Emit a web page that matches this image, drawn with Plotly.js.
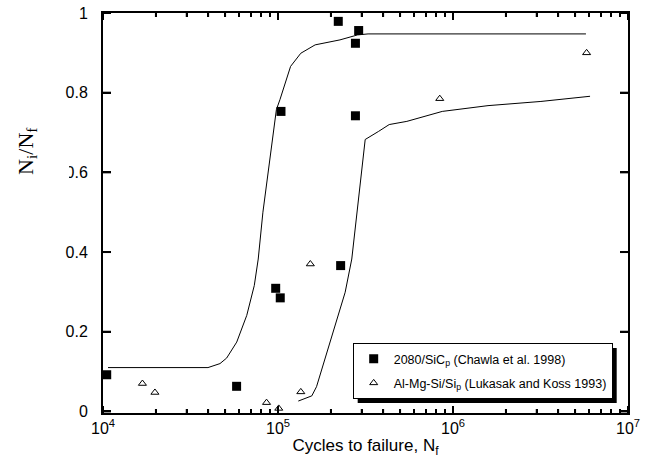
<!DOCTYPE html>
<html>
<head>
<meta charset="utf-8">
<script src="https://cdn.plot.ly/plotly-3.0.1.min.js"></script>
<style>
  html, body { margin: 0; padding: 0; background: #fff; }
  #chart { width: 654px; height: 458px; }
</style>
</head>
<body>
<div id="chart"></div>
<script>
// ---- Data ----
const sicName = '2080/SiC<sub>p</sub> (Chawla et al. 1998)';
const sicX = [1.05e4, 5.8e4, 9.7e4, 1.03e5, 1.04e5, 2.28e5, 2.21e5, 2.89e5, 2.77e5, 2.77e5];
const sicY = [0.092, 0.063, 0.309, 0.285, 0.753, 0.366, 0.979, 0.956, 0.924, 0.742];

const siName = 'Al-Mg-Si/Si<sub>p</sub> (Lukasak and Koss 1993)';
const siX = [1.68e4, 1.98e4, 8.6e4, 1.01e5, 1.35e5, 1.53e5, 8.4e5, 5.8e6];
const siY = [0.070, 0.0475, 0.022, 0.0075, 0.049, 0.370, 0.785, 0.900];

const curve1X = [1.068e4, 3.98e4, 4.66e4, 5.09e4, 5.81e4, 6.63e4, 7.32e4, 7.71e4, 8.2e4, 9.33e4, 9.79e4, 1.026e5, 1.075e5, 1.18e5, 1.35e5, 1.63e5, 2.26e5, 2.85e5, 3.27e5, 5.75e6];
const curve1Y = [0.11, 0.11, 0.12, 0.134, 0.174, 0.241, 0.316, 0.3825, 0.50, 0.6825, 0.7575, 0.7825, 0.81, 0.866, 0.899, 0.92, 0.9325, 0.945, 0.9475, 0.9475];

const curve2X = [1.306e5, 1.56e5, 1.66e5, 1.86e5, 2.12e5, 2.42e5, 2.64e5, 2.83e5, 3.15e5, 3.76e5, 4.32e5, 5.45e5, 8.68e5, 1.585e6, 3.18e6, 6.07e6];
const curve2Y = [0.026, 0.039, 0.062, 0.1325, 0.216, 0.299, 0.3825, 0.50, 0.6825, 0.703, 0.72, 0.728, 0.753, 0.7675, 0.778, 0.791];

const xRangeDecades = [4, 7];   // 10^4 .. 10^7
const yRange = [0, 1];
const yTickStep = 0.2;

const xTitle = 'Cycles to failure, N<sub>f</sub>';
const yTitle = 'N<sub>i</sub>/N<sub>f</sub>';

// ---- Traces ----
const traces = [
  { x: curve1X, y: curve1Y, mode: 'lines', line: { color: '#000', width: 1 }, showlegend: false, hoverinfo: 'skip' },
  { x: curve2X, y: curve2Y, mode: 'lines', line: { color: '#000', width: 1 }, showlegend: false, hoverinfo: 'skip' },
  { x: sicX, y: sicY, name: sicName, mode: 'markers', legendgroup: 'a',
    marker: { symbol: 'square', size: 9, color: '#000' } },
  { x: siX, y: siY, name: siName, mode: 'markers', legendgroup: 'b',
    marker: { symbol: 'triangle-up-open', size: 7, color: '#000', line: { width: 1, color: '#000' } } }
];

const font = 'Arial, "Liberation Sans", sans-serif';

const layout = {
  width: 654, height: 458,
  margin: { l: 103, r: 26, t: 13, b: 45 },
  paper_bgcolor: '#fff', plot_bgcolor: '#fff',
  font: { family: font, size: 16, color: '#000' },
  showlegend: true,
  legend: {
    x: 0.4756, y: 0.175, xanchor: 'left', yanchor: 'top',
    bgcolor: '#fff', bordercolor: '#000', borderwidth: 1,
    font: { family: font, size: 12.5, color: '#000' },
    tracegroupgap: 5
  },
  xaxis: {
    type: 'log', range: xRangeDecades,
    tickmode: 'linear', tick0: 0, dtick: 1, exponentformat: 'power',
    ticks: 'inside', ticklen: 7, tickwidth: 2, tickcolor: '#000',
    showline: true, linewidth: 2, linecolor: '#000', mirror: 'ticks',
    showgrid: false, zeroline: false,
    tickfont: { size: 12.8 },
    minor: { dtick: 'D1', ticks: 'inside', ticklen: 4, tickwidth: 1.5, tickcolor: '#000' },
    title: { text: xTitle, font: { size: 17 }, standoff: 4 },
    automargin: false
  },
  yaxis: {
    range: [-0.004, 1],
    tickmode: 'linear', tick0: 0, dtick: yTickStep,
    ticks: 'inside', ticklen: 8, tickwidth: 2, tickcolor: '#000',
    showline: true, linewidth: 2, linecolor: '#000', mirror: 'ticks',
    showgrid: false, zeroline: false,
    tickfont: { size: 16 },
    ticklabelstandoff: 10,
    automargin: false
  },
  annotations: [
    { xref: 'paper', yref: 'paper', x: -0.145, y: 0.655, xanchor: 'center', yanchor: 'middle',
      text: yTitle, textangle: -90, showarrow: false,
      font: { family: '"Liberation Serif", "Times New Roman", serif', size: 22, color: '#000' } }
  ]
};

Plotly.newPlot('chart', traces, layout, { displayModeBar: false }).then(function (gd) {
  const ns = 'http://www.w3.org/2000/svg';

  // --- tick marks on all four sides, placed with the axes' own scales ---
  const fl = gd._fullLayout, xa = fl.xaxis, ya = fl.yaxis;
  const left = xa._offset, right = xa._offset + xa._length;
  const top = ya._offset, bot = ya._offset + ya._length;
  const g = document.createElementNS(ns, 'g');
  function seg(x1, y1, x2, y2, w) {
    const p = document.createElementNS(ns, 'path');
    p.setAttribute('d', 'M' + x1 + ',' + y1 + 'L' + x2 + ',' + y2);
    p.setAttribute('style', 'stroke:#000;stroke-width:' + w + 'px;fill:none;');
    g.appendChild(p);
  }
  const xpx = v => xa._offset + xa.l2p(Math.log10(v));
  const ypx = v => ya._offset + ya.l2p(v);
  for (let d = xRangeDecades[0]; d <= xRangeDecades[1]; d++) {
    const px = xpx(Math.pow(10, d));
    seg(px, bot, px, bot - 7, 2); seg(px, top, px, top + 7, 2);
    if (d < xRangeDecades[1]) {
      for (let m = 2; m <= 9; m++) {
        const mx = xpx(m * Math.pow(10, d));
        seg(mx, bot, mx, bot - 4, 1.5); seg(mx, top, mx, top + 4, 1.5);
      }
    }
  }
  const nY = Math.round((yRange[1] - yRange[0]) / yTickStep);
  for (let i = 0; i <= nY; i++) {
    const py = ypx(yRange[0] + i * yTickStep);
    seg(left, py, left + 8, py, 2); seg(right, py, right - 8, py, 2);
  }
  const svgs = gd.querySelectorAll('svg.main-svg');
  const topSvg = svgs[svgs.length - 1];
  if (topSvg) topSvg.appendChild(g);

  // --- drop shadow behind the legend box ---
  const leg = gd.querySelector('.legend');
  if (leg) {
    const bg = leg.querySelector('rect.bg');
    if (bg) {
      const sh = document.createElementNS(ns, 'rect');
      sh.setAttribute('x', 5);
      sh.setAttribute('y', 5);
      sh.setAttribute('width', parseFloat(bg.getAttribute('width')));
      sh.setAttribute('height', parseFloat(bg.getAttribute('height')));
      sh.setAttribute('fill', '#000');
      bg.parentNode.insertBefore(sh, bg);
    }
  }

  // --- the reference's axis title box hides the left half of the "0" in "0.6" ---
  gd.querySelectorAll('.ytick text').forEach(function (t) {
    if (t.textContent === '0.6') {
      const b = t.getBBox();
      const r = document.createElementNS(ns, 'rect');
      r.setAttribute('x', b.x - 2);
      r.setAttribute('y', b.y);
      r.setAttribute('width', 5.5);
      r.setAttribute('height', b.height);
      r.setAttribute('fill', '#fff');
      const tr = t.getAttribute('transform');
      if (tr) r.setAttribute('transform', tr);
      t.parentNode.appendChild(r);
    }
  });
});
</script>
</body>
</html>
